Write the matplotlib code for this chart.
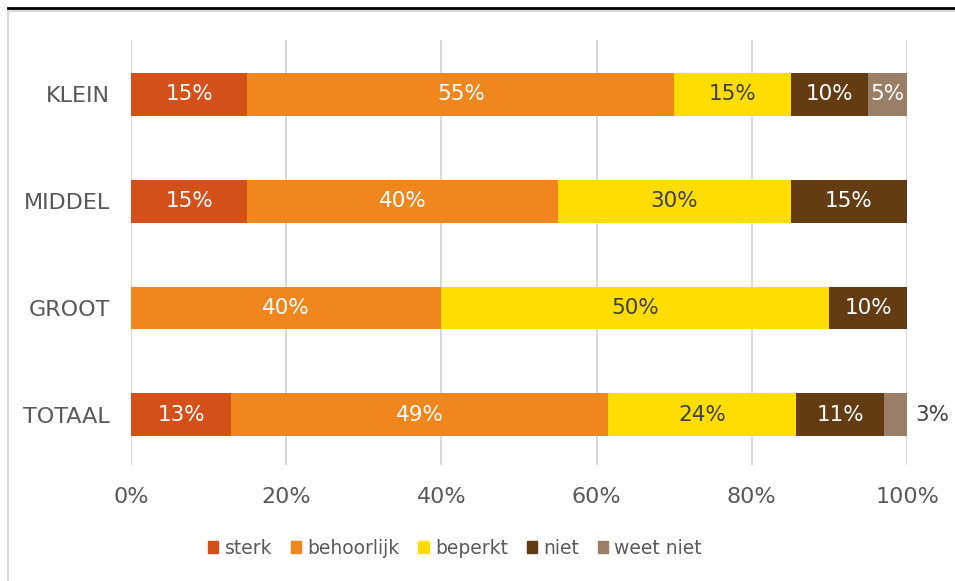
import matplotlib
matplotlib.use('Agg')
import matplotlib.pyplot as plt
from matplotlib.lines import Line2D
from matplotlib.patches import Patch

#=================================================================================#

categorieen = ['TOTAAL', 'GROOT', 'MIDDEL', 'KLEIN']
reeksen = ['sterk', 'behoorlijk', 'beperkt', 'niet', 'weet niet']
sterk = [12.9, 0, 15, 15]
behoorlijk = [48.6, 40, 40, 55]
beperkt = [24.2, 50, 30, 15]
niet = [11.4, 10, 15, 10]
weet_niet = [2.9, 0, 0, 5]
xticks = ['0%', '20%', '40%', '60%', '80%', '100%']

kleuren = ['#D4501A', '#F0871E', '#FFDD00', '#643C14', '#9B7E66']
tekstkleur = ['white', 'white', '#404040', 'white', 'white']

#=================================================================================#

fig = plt.figure(figsize=(9.55, 5.81), dpi=100)
ax = fig.add_axes([131/955, 1-465/581, 776/955, 425/581])

data = [sterk, behoorlijk, beperkt, niet, weet_niet]
links = [0]*len(categorieen)
for i, waarden in enumerate(data):
    ax.barh(range(len(categorieen)), waarden, left=links, height=0.4,
            color=kleuren[i], label=reeksen[i], zorder=3)
    for j, v in enumerate(waarden):
        if v <= 0:
            continue
        if categorieen[j] == 'TOTAAL' and reeksen[i] == 'weet niet':
            ax.text(links[j] + v + 1.1, j, f'{round(v)}%', ha='left', va='center',
                    fontsize=15.5, color='#404040', zorder=4)
        else:
            ax.text(links[j] + v/2, j, f'{round(v)}%', ha='center', va='center',
                    fontsize=15.5, color=tekstkleur[i], zorder=4)
    links = [a + b for a, b in zip(links, waarden)]

ax.set_xlim(0, 100)
ax.set_ylim(-0.47, 3.51)
ax.set_xticks([0, 20, 40, 60, 80, 100])
ax.set_xticklabels(xticks)
ax.set_yticks(range(len(categorieen)))
ax.set_yticklabels(categorieen)
ax.tick_params(length=0, labelsize=16, labelcolor='#595959')
ax.tick_params(axis='x', pad=16)
ax.tick_params(axis='y', pad=15)
ax.grid(axis='x', color='#D9D9D9', linewidth=1.5, zorder=0)
for s in ax.spines.values():
    s.set_visible(False)

handles = [Patch(color=k) for k in kleuren]
fig.legend(handles, reeksen, loc='center', bbox_to_anchor=(455/955, 1-548/581),
           ncol=5, frameon=False, fontsize=13.5, handlelength=0.55, handleheight=0.55,
           handletextpad=0.33, columnspacing=1.0, labelcolor='#595959')

# kader
fig.add_artist(Line2D([8/955, 1], [1-11/581, 1-11/581], color='#D9D9D9', linewidth=1.5))
fig.add_artist(Line2D([8/955, 8/955], [0, 1-11/581], color='#D9D9D9', linewidth=1.5))
fig.add_artist(Line2D([8/955, 1], [1-8/581, 1-8/581], color='black', linewidth=2))

fig.savefig('out.png', dpi=100)
